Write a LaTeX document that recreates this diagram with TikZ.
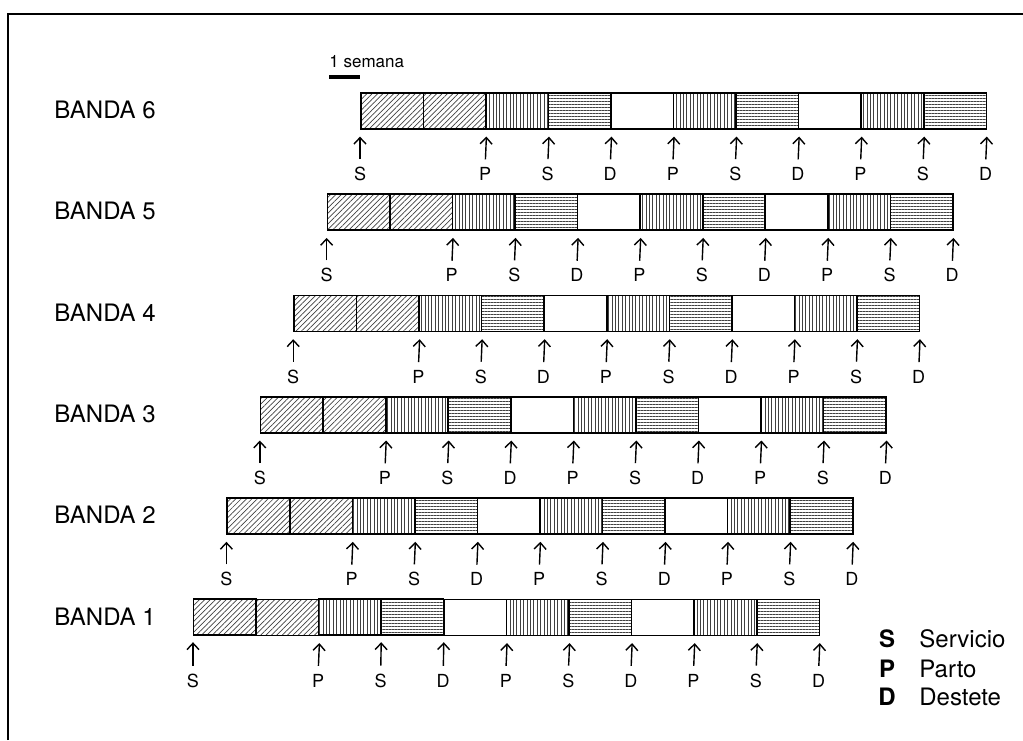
\documentclass[tikz,border=0pt]{standalone}
\usepackage{fontspec}
\setmainfont{TeX Gyre Heros}
\usetikzlibrary{arrows.meta,patterns.meta}

\begin{document}
\begin{tikzpicture}[x=0.5pt,y=-0.5pt,
  >={Straight Barb[length=3.2pt,width=6pt]},
  cell/.style={draw,line width=0.8pt,minimum width=31.275pt,minimum height=18pt,inner sep=0pt,anchor=north west},
  diag/.style={pattern={Lines[angle=45,distance=1.9pt,line width=0.35pt]},pattern color=black!75},
  vert/.style={pattern={Lines[angle=90,distance=1.7pt,line width=0.35pt]},pattern color=black!75},
  horiz/.style={pattern={Lines[angle=0,distance=1.5pt,line width=0.35pt]},pattern color=black!75},
  blank/.style={fill=white},
  bandlabel/.style={anchor=west,inner sep=0pt,font=\fontsize{12}{14}\selectfont},
  tick/.style={inner sep=0pt,font=\fontsize{9}{11}\selectfont},
  arr/.style={->,line width=0.7pt,shorten <=3.8pt,shorten >=3.5pt},
  legkey/.style={inner sep=0pt,font=\fontsize{12}{14}\selectfont\bfseries},
  legtext/.style={anchor=west,inner sep=0pt,font=\fontsize{12}{14}\selectfont}]
\useasboundingbox (0,0) rectangle (1023,740);
% frame
\draw[line width=1pt] (8,740) -- (8,14) -- (1023,14);
% scale
\node[anchor=base west,inner sep=0pt,font=\fontsize{8.5}{10}\selectfont] (semana) at (329,67) {1 semana};
\draw[line width=1.8pt] (329,77) -- (360,77);
% bands
\foreach \n in {1,...,6}{
  \pgfmathsetmacro{\xo}{360-33.4*(6-\n)}
  \pgfmathsetmacro{\yo}{92+101.3*(6-\n)}
  \node[bandlabel] (band\n) at (54,\yo+18) {BANDA \n};
  \foreach \f [count=\k] in {diag,diag,vert,horiz,blank,vert,horiz,blank,vert,horiz}
    \node[cell,\f] (b\n-\k) at (\xo+62.55*\k-62.55,\yo) {};
  \node[tick] (l\n-0) at (\xo,\yo+82) {S};
  \draw[arr] (l\n-0.north) -- (b\n-1.south west);
  \foreach \k/\t in {2/P,3/S,4/D,5/P,6/S,7/D,8/P,9/S,10/D}{
    \node[tick] (l\n-\k) at (\xo+62.55*\k,\yo+82) {\t};
    \draw[arr] (l\n-\k.north) -- (b\n-\k.south east);
  }
}
% legend
\node[legkey] (kS) at (887,639) {S};
\node[legtext] (tS) at (919,639) {Servicio};
\node[legkey] (kP) at (887,669) {P};
\node[legtext] (tP) at (919,669) {Parto};
\node[legkey] (kD) at (887,697) {D};
\node[legtext] (tD) at (919,697) {Destete};
\end{tikzpicture}
\end{document}
